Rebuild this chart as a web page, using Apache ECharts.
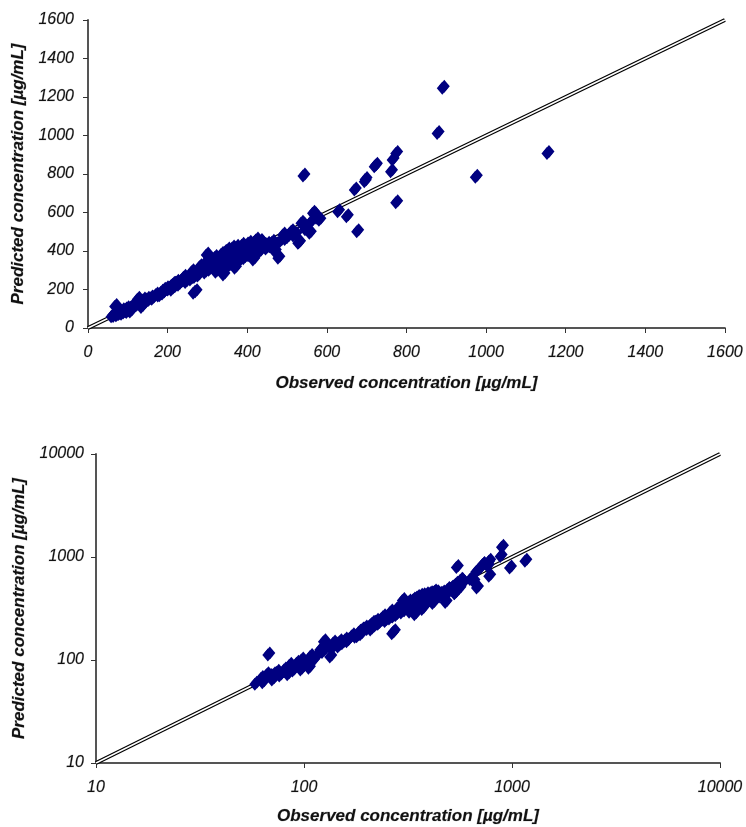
<!DOCTYPE html>
<html>
<head>
<meta charset="utf-8">
<script src="https://cdn.jsdelivr.net/npm/echarts@6/dist/echarts.min.js"></script>
<style>html,body{margin:0;padding:0;background:#fff}#c{width:746px;height:827px}</style>
</head>
<body>
<div id="c"></div>
<script>
// Observed concentration [µg/mL]
const observed = [58,62,63,66,67,68,70,71,72,74,76,78,80,81,83,85,87,88,90,92,94,96,97,100,102,105,107,110,112,116,119,122,124,126,128,133,135,138,141,145,148,152,157,160,165,
170,175,179,183,186,189,192,196,200,204,208,212,215,218,222,226,230,234,238,240,244,248,252,256,260,262,264,266,269,272,275,279,280,284,288,292,296,297,300,
303,306,308,310,313,316,318,320,322,325,327,330,332,334,336,338,339,342,344,346,348,350,352,354,356,358,360,362,364,366,368,370,372,374,376,378,380,382,384,386,388,390,392,394,397,399,402,404,406,408,410,412,414,416,418,420,422,425,428,430,432,435,438,442,446,450,456,462,468,472,477,482,489,494,500,506,510,515,520,527,529,535,539,540,545,550,556,560,564,568,573,580,
627,649,669,675,694,696,719,722,760,764,773,773,877,890,973,1153];
// Predicted concentration [µg/mL]
const predicted = [58,66,60,72,112,69,64,72,68,76,70,74,80,77,72,89,82,78,84,93,86,80,100,88,94,83,108,98,104,112,125,118,150,140,132,107,128,146,140,134,150,144,156,150,162,
172,166,168,186,176,196,190,204,198,210,196,226,227,214,238,222,232,250,244,263,236,256,268,250,292,276,180,262,188,284,270,306,318,296,310,286,330,379,355,
300,340,322,336,350,312,366,290,345,360,330,370,318,382,329,348,275,392,360,338,372,405,320,386,350,400,340,415,378,355,310,396,420,366,388,344,388,410,372,430,395,360,418,382,431,402,375,440,410,392,425,400,353,445,415,385,457,430,408,395,450,440,420,428,410,435,422,446,398,432,362,450,483,460,470,492,500,478,486,440,443,544,535,790,510,530,492,552,596,587,570,560,
604,578,717,500,760,772,838,845,812,873,907,651,1011,1245,783,907];

const xTicksLin = [0,200,400,600,800,1000,1200,1400,1600];
const logTicks = [10,100,1000,10000];
const identityLin = [[0,0],[1600,1600]];
const identityLog = [[10,10],[10000,10000]];

const points = observed.map((o,i)=>[o,predicted[i]]);

const font = '"Liberation Sans", Arial, sans-serif';
const fmt = v => String(Math.round(v));
const labelStyle = {
  fontFamily: font, fontStyle: 'italic', fontSize: 16, color: '#111', formatter: fmt,
  textBorderColor: 'rgba(70,70,70,0.35)', textBorderWidth: 0.6
};
const nameStyle = {
  fontFamily: font, fontStyle: 'italic', fontWeight: 'bold', fontSize: 17, color: '#111',
  textBorderColor: 'rgba(70,70,70,0.35)', textBorderWidth: 0.6
};
const axisLine = {show: true, lineStyle: {color: '#555', width: 2}};
const axisTick = {show: true, inside: false, length: 5, lineStyle: {color: '#333', width: 1}};
const markStyle = {color: '#000080', opacity: 1};

const chart = echarts.init(document.getElementById('c'), null, {renderer: 'canvas'});
chart.setOption({
  animation: false,
  backgroundColor: '#fff',
  grid: [
    {left: 88, top: 20, width: 639, height: 308},
    {left: 96, top: 454, width: 624, height: 309}
  ],
  xAxis: [
    {gridIndex: 0, type: 'value', min: xTicksLin[0], max: xTicksLin[xTicksLin.length-1], interval: 200,
     name: 'Observed concentration [µg/mL]', nameLocation: 'middle', nameGap: 47, nameTextStyle: nameStyle,
     axisLine: axisLine, axisTick: axisTick, splitLine: {show: false},
     axisLabel: Object.assign({margin: 17}, labelStyle)},
    {gridIndex: 1, type: 'log', logBase: 10, min: logTicks[0], max: logTicks[logTicks.length-1],
     name: 'Observed concentration [µg/mL]', nameLocation: 'middle', nameGap: 45, nameTextStyle: nameStyle,
     axisLine: axisLine, axisTick: axisTick, splitLine: {show: false}, minorTick: {show: false},
     axisLabel: Object.assign({margin: 17}, labelStyle)}
  ],
  yAxis: [
    {gridIndex: 0, type: 'value', min: xTicksLin[0], max: xTicksLin[xTicksLin.length-1], interval: 200,
     name: 'Predicted concentration [µg/mL]', nameLocation: 'middle', nameGap: 60, nameRotate: 90, nameTextStyle: nameStyle,
     axisLine: axisLine, axisTick: axisTick, splitLine: {show: false},
     axisLabel: Object.assign({margin: 14}, labelStyle)},
    {gridIndex: 1, type: 'log', logBase: 10, min: logTicks[0], max: logTicks[logTicks.length-1],
     name: 'Predicted concentration [µg/mL]', nameLocation: 'middle', nameGap: 68, nameRotate: 90, nameTextStyle: nameStyle,
     axisLine: axisLine, axisTick: axisTick, splitLine: {show: false},
     axisLabel: Object.assign({margin: 12}, labelStyle)}
  ],
  series: [
    {type: 'line', xAxisIndex: 0, yAxisIndex: 0, data: identityLin, symbol: 'none', lineStyle: {color: '#000', width: 4}, z: 2, silent: true},
    {type: 'line', xAxisIndex: 0, yAxisIndex: 0, data: identityLin, symbol: 'none', lineStyle: {color: '#fff', width: 1.5}, z: 3, silent: true},
    {type: 'scatter', xAxisIndex: 0, yAxisIndex: 0, data: points, symbol: 'diamond', symbolSize: [11, 13], itemStyle: markStyle, z: 4},
    {type: 'scatter', xAxisIndex: 0, yAxisIndex: 0, data: points, symbol: 'diamond', symbolSize: [11, 13], symbolOffset: [2, -2], itemStyle: markStyle, z: 4},
    {type: 'line', xAxisIndex: 1, yAxisIndex: 1, data: identityLog, symbol: 'none', lineStyle: {color: '#000', width: 4}, z: 2, silent: true},
    {type: 'line', xAxisIndex: 1, yAxisIndex: 1, data: identityLog, symbol: 'none', lineStyle: {color: '#fff', width: 1.5}, z: 3, silent: true},
    {type: 'scatter', xAxisIndex: 1, yAxisIndex: 1, data: points, symbol: 'diamond', symbolSize: [11, 13], itemStyle: markStyle, z: 4},
    {type: 'scatter', xAxisIndex: 1, yAxisIndex: 1, data: points, symbol: 'diamond', symbolSize: [11, 13], symbolOffset: [2, -2], itemStyle: markStyle, z: 4}
  ]
});
</script>
</body>
</html>
